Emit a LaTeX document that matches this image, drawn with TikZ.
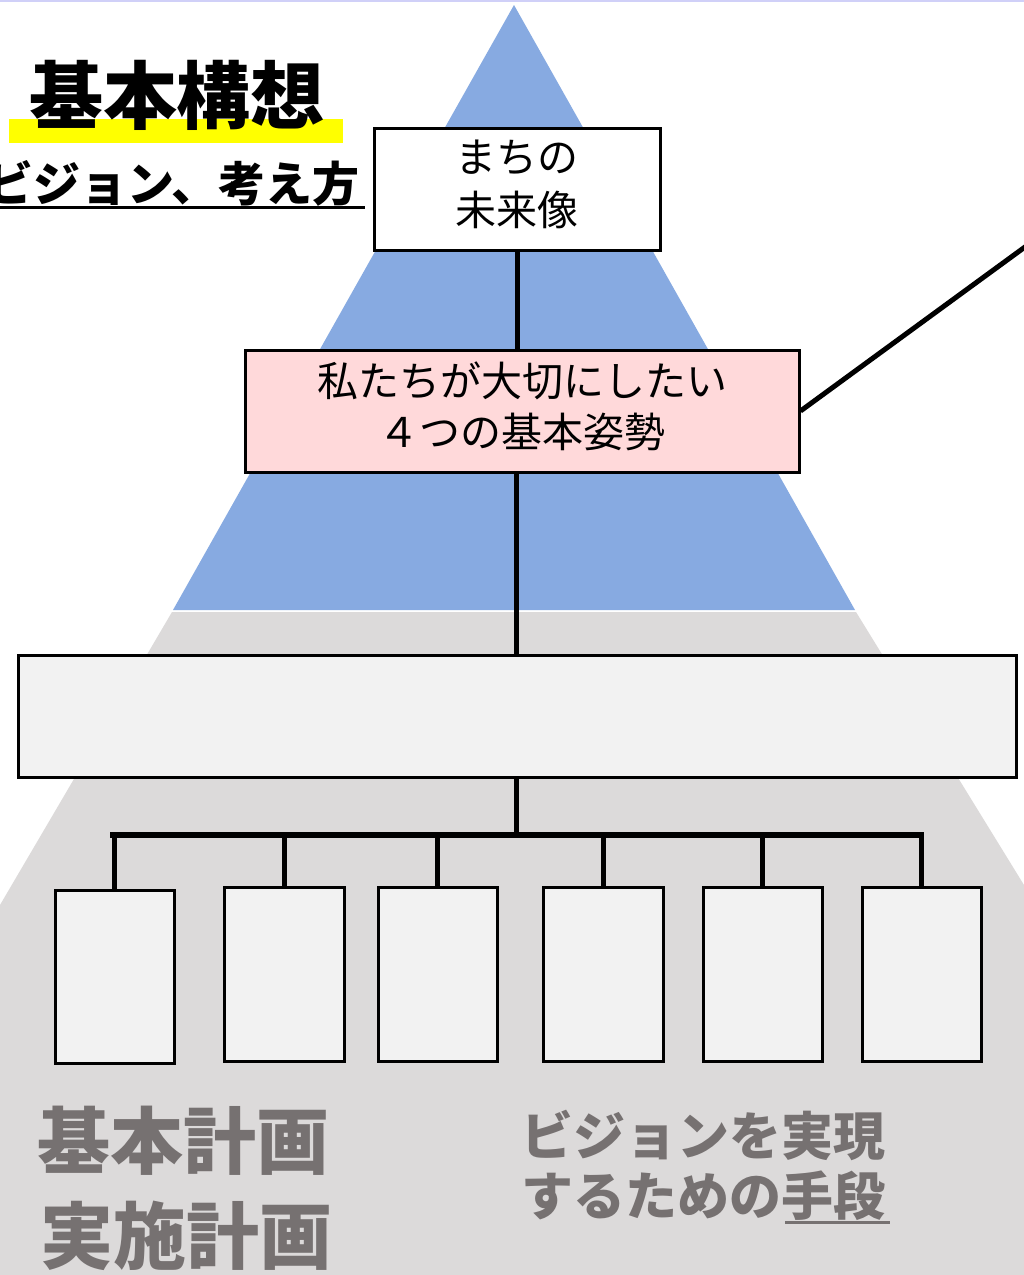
\documentclass[tikz,border=0pt]{standalone}
\usepackage{fontspec}
\newfontfamily\jp{Noto Sans CJK JP}
\definecolor{pyrblue}{HTML}{87AAE1}
\definecolor{pyrgray}{HTML}{DCDADA}
\definecolor{boxgray}{HTML}{F2F2F2}
\definecolor{boxpink}{HTML}{FFD9DA}
\definecolor{txtgray}{HTML}{767171}
\definecolor{hiyellow}{HTML}{FFFF00}
\definecolor{topline}{HTML}{D0D0F8}
\tikzset{
  x=1pt, y=-1pt,
  frame/.style={draw=black, line width=3pt, inner sep=0pt, align=center},
  conn/.style={draw=black, line width=5pt},
  boxtext/.style={inner sep=0pt, align=center},
  bigtitle/.style={inner sep=0pt, font={\jp\bfseries\fontsize{74}{80}\selectfont}},
  graytitle/.style={inner sep=0pt, text=txtgray, font={\jp\bfseries\fontsize{73}{80}\selectfont}},
  graytext/.style={inner sep=0pt, text=txtgray, align=left, font={\jp\bfseries\fontsize{52}{60}\selectfont}},
}
\begin{document}
\begin{tikzpicture}
\useasboundingbox (0,0) rectangle (1024,1275);
\clip (0,0) rectangle (1024,1275);
\fill[white] (0,0) rectangle (1024,1275);
\draw[topline, line width=2pt] (0,1) -- (1024,1);
% pyramid
\fill[pyrgray] (172,612) -- (856,612) -- (1024,885) -- (1024,1275) -- (0,1275) -- (0,905) -- cycle;
\fill[pyrblue] (514,5) -- (855,610) -- (173,610) -- cycle;
% title
\fill[hiyellow] (9,119) rectangle (343,143);
\node[bigtitle] (title) at (177,95) {基本構想};
\node[inner sep=0pt, anchor=west, font={\jp\bfseries\fontsize{47}{52}\selectfont}] (sub) at (-14,183) {ビジョン、考え方};
\draw[line width=3pt] (-14,207) -- (365,207);
% boxes
\node[frame, fill=white, minimum width=286pt, minimum height=122pt] (vision) at (517,189) {};
\node[boxtext, font={\jp\fontsize{41}{53}\selectfont}] (visiontext) at (517,184) {まちの\\未来像};
\node[frame, fill=boxpink, minimum width=554pt, minimum height=122pt] (stance) at (522,411) {};
\node[boxtext, font={\jp\fontsize{41}{51}\selectfont}] (stancetext) at (522,406) {私たちが大切にしたい\\４つの基本姿勢};
\node[frame, fill=boxgray, minimum width=998pt, minimum height=122pt] (big) at (517,716) {};
\node[frame, fill=boxgray, minimum width=119pt, minimum height=173pt] (b1) at (114.5,976.5) {};
\node[frame, fill=boxgray, minimum width=120pt, minimum height=174pt] (b2) at (284,974) {};
\node[frame, fill=boxgray, minimum width=119pt, minimum height=174pt] (b3) at (437.5,974) {};
\node[frame, fill=boxgray, minimum width=120pt, minimum height=174pt] (b4) at (603,974) {};
\node[frame, fill=boxgray, minimum width=119pt, minimum height=174pt] (b5) at (762.5,974) {};
\node[frame, fill=boxgray, minimum width=119pt, minimum height=174pt] (b6) at (921.5,974) {};
% connectors
\coordinate (offright) at (1040,236);
\coordinate (busL) at (110,835);
\coordinate (busR) at (924,835);
\draw[conn] (vision.south) -- (vision.south |- stance.north);
\draw[conn] (stance.east) -- (offright);
\draw[conn] (stance.south) ++(-6,0) coordinate (sdrop) (sdrop) -- (sdrop |- big.north);
\draw[conn] (big.south) ++(-1,0) coordinate (bdrop) (bdrop) -- (bdrop |- busL);
\draw[conn, line width=6pt] (busL) -- (busR);
\foreach \b in {b1,b2,b3,b4,b5,b6}{
  \draw[conn] (busL -| \b.north) -- (\b.north);
}
% bottom texts
\node[graytitle, anchor=west] (kihon) at (37,1141) {基本計画};
\node[graytitle, anchor=west] (jisshi) at (40,1236) {実施計画};
\node[graytext, anchor=west] (means1) at (521,1135) {ビジョンを実現};
\node[graytext, anchor=west] (means2) at (521,1196) {するための手段};
\draw[txtgray, line width=3pt] (785,1222) -- (890,1222);
\end{tikzpicture}
\end{document}
